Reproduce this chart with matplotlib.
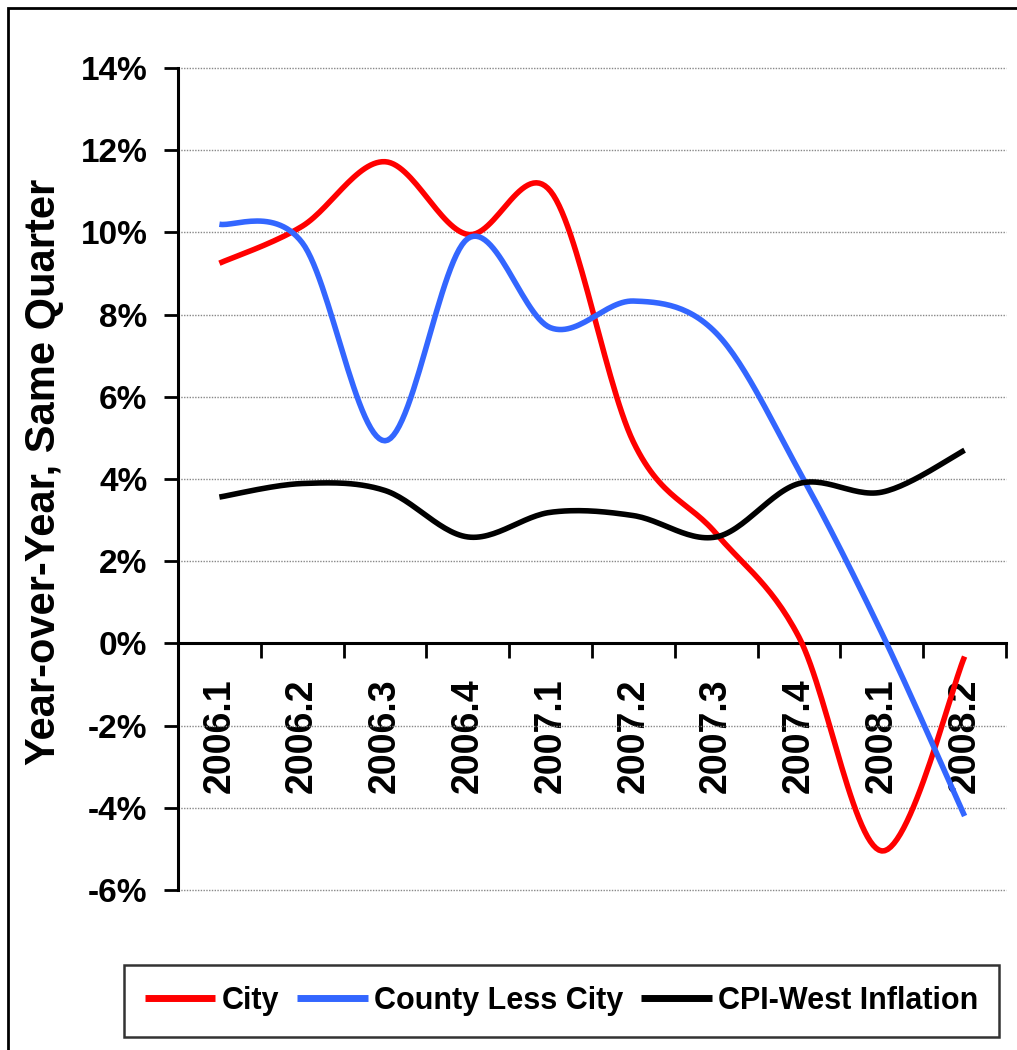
import numpy as np
import matplotlib
matplotlib.use("Agg")
import matplotlib.pyplot as plt
from matplotlib.patches import Rectangle
from matplotlib.ticker import FixedLocator, FuncFormatter

quarters = ["2006.1", "2006.2", "2006.3", "2006.4", "2007.1",
            "2007.2", "2007.3", "2007.4", "2008.1", "2008.2"]
city = [9.25, 10.15, 11.72, 9.95, 11.0, 4.9, 2.67, 0.15, -5.05, -0.32]
county = [10.2, 9.75, 4.93, 9.85, 7.68, 8.33, 7.55, 4.2, 0.25, -4.2]
cpi = [3.56, 3.89, 3.72, 2.59, 3.19, 3.11, 2.59, 3.89, 3.68, 4.7]
series_names = ["City", "County Less City", "CPI-West Inflation"]
series_colors = ["#FF0000", "#3366FF", "#000000"]
yticks = [-6, -4, -2, 0, 2, 4, 6, 8, 10, 12, 14]

FONT = ["Liberation Sans", "DejaVu Sans"]


def smooth(y, n=30):
    """Catmull-Rom Bezier smoothing like Excel's smoothed lines."""
    y = np.asarray(y, float)
    x = np.arange(len(y), dtype=float)
    P = np.column_stack([x, y])
    xs, ys = [], []
    for i in range(len(P) - 1):
        p0 = P[i - 1] if i > 0 else P[i]
        p1 = P[i]
        p2 = P[i + 1]
        p3 = P[i + 2] if i + 2 < len(P) else P[i + 1]
        c1 = p1 + (p2 - p0) / 6.0
        c2 = p2 - (p3 - p1) / 6.0
        t = np.linspace(0, 1, n)[:, None]
        b = ((1 - t) ** 3) * p1 + 3 * ((1 - t) ** 2) * t * c1 + 3 * (1 - t) * t ** 2 * c2 + t ** 3 * p2
        if i > 0:
            b = b[1:]
        xs.append(b[:, 0]); ys.append(b[:, 1])
    return np.concatenate(xs), np.concatenate(ys)


W, H = 1017, 1050
fig = plt.figure(figsize=(W / 100, H / 100), dpi=100)
fig.patch.set_facecolor("white")

left, right, top, bottom = 178, 1006, 68, 890
ax = fig.add_axes([left / W, 1 - bottom / H, (right - left) / W, (bottom - top) / H])

for data, col, name in zip([city, county, cpi], series_colors, series_names):
    sx, sy = smooth(data)
    ax.plot(sx, sy, color=col, lw=4.0, label=name, solid_capstyle="butt", zorder=3)

ax.set_xlim(-0.5, len(quarters) - 0.5)
ax.set_ylim(yticks[0], yticks[-1])

# y axis
ax.yaxis.set_major_locator(FixedLocator(yticks))
ax.yaxis.set_major_formatter(FuncFormatter(lambda v, p: f"{int(round(v))}%"))
ax.tick_params(axis="y", direction="out", length=10, width=2, pad=12, labelsize=24)
for lab in ax.get_yticklabels():
    lab.set_fontfamily(FONT)
    lab.set_fontweight("bold")
ax.grid(axis="y", color="#888888", linestyle=(0, (1, 1)), lw=1.0, zorder=0)
for gl in ax.get_ygridlines():
    gl.set_clip_on(False)

# x axis at zero
ax.spines["bottom"].set_position(("data", 0))
ax.spines["bottom"].set_linewidth(2.2)
ax.spines["left"].set_linewidth(2.2)
ax.spines["top"].set_visible(False)
ax.spines["right"].set_visible(False)
ax.set_xticks(range(len(quarters)))
ax.set_xticklabels(quarters, rotation=90, fontsize=27, fontweight="bold", family=FONT)
ax.set_xticks(np.arange(0.5, len(quarters), 1.0), minor=True)
ax.tick_params(axis="x", which="major", length=0, pad=25)
ax.tick_params(axis="x", which="minor", length=11, width=2, direction="out")

fig.text(44 / W, 1 - 472 / H, "Year-over-Year, Same Quarter", rotation=90,
         ha="center", va="center", fontsize=30, fontweight="bold", family=FONT)

# legend
leg = fig.legend(loc="center", bbox_to_anchor=((123 + 1000) / 2 / W, 1 - 1001 / H),
                 ncol=3, frameon=True, fancybox=False, edgecolor="black",
                 prop={"family": FONT, "weight": "bold", "size": 22},
                 handlelength=2.3, handletextpad=0.2, columnspacing=0.6,
                 borderpad=0.7, borderaxespad=0)
leg.get_frame().set_linewidth(1.8)
for h in leg.legend_handles:
    h.set_linewidth(5)

# outer chart border
fig.patches.append(Rectangle((8 / W, -0.1), 1.2, 1 - 8 / H + 0.1, transform=fig.transFigure,
                             fill=False, edgecolor="black", lw=2))

fig.savefig("out.png", dpi=100, facecolor="white")
